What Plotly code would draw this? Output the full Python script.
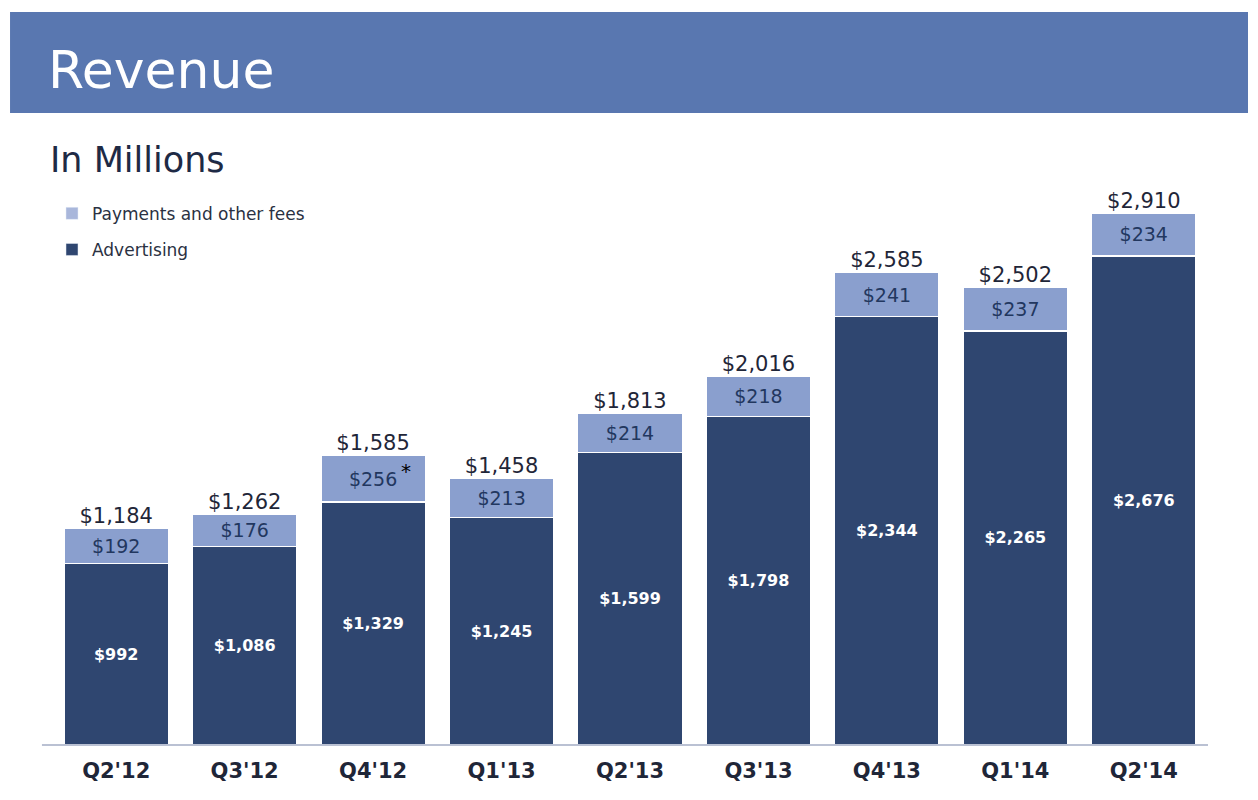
import plotly.graph_objects as go

# Quarterly revenue, in millions of dollars
quarters = ["Q2'12", "Q3'12", "Q4'12", "Q1'13", "Q2'13", "Q3'13", "Q4'13", "Q1'14", "Q2'14"]
advertising = [992, 1086, 1329, 1245, 1599, 1798, 2344, 2265, 2676]
payments = [192, 176, 256, 213, 214, 218, 241, 237, 234]
totals = [1184, 1262, 1585, 1458, 1813, 2016, 2585, 2502, 2910]

FONT = "DejaVu Sans"
AD_COLOR = "#2f4670"
PAY_COLOR = "#8a9fce"
TEXT_DARK = "#1f2638"

fig = go.Figure()

fig.add_trace(go.Bar(
    x=quarters, y=advertising, name="Advertising",
    marker=dict(color=AD_COLOR, line=dict(color="white", width=1.5)),
    text=[f"${v:,}" for v in advertising],
    textposition="inside", insidetextanchor="middle", textangle=0,
    insidetextfont=dict(family=FONT, size=16, color="white", weight="bold"),
    showlegend=False, hoverinfo="skip",
))
fig.add_trace(go.Bar(
    x=quarters, y=payments, name="Payments and other fees",
    marker=dict(color=PAY_COLOR, line=dict(color="white", width=1.5)),
    text=[f"${v:,}" for v in payments],
    textposition="inside", insidetextanchor="middle", textangle=0,
    insidetextfont=dict(family=FONT, size=19, color="#22375f"),
    showlegend=False, hoverinfo="skip",
))

# totals above each stack
fig.add_trace(go.Scatter(
    x=quarters, y=totals, mode="text",
    text=[f"${v:,}" for v in totals], textposition="top center",
    textfont=dict(family=FONT, size=21, color=TEXT_DARK),
    showlegend=False, hoverinfo="skip",
))

# legend-only entries (swatches are lighter than the bars in the original)
fig.add_trace(go.Bar(x=[None], y=[None], name="Payments and other fees",
                     marker_color="#a9b7db", legendgroup="p", legendrank=1))
fig.add_trace(go.Bar(x=[None], y=[None], name="Advertising",
                     marker_color="#2f4670", legendgroup="a", legendrank=2))

# footnote star on Q4'12 payments
fig.add_annotation(x=quarters[2], y=advertising[2] + payments[2] / 2,
                   text="*", showarrow=False, xshift=33, yshift=8,
                   font=dict(family=FONT, size=20, color="black"))

# header band and titles
fig.add_shape(type="rect", xref="paper", yref="paper",
              x0=-0.0363, x1=1.0346, y0=1.062, y1=1.232,
              fillcolor="#5977b0", line_width=0, layer="below")
fig.add_annotation(xref="paper", yref="paper", x=-0.005, y=1.135,
                   xanchor="left", yanchor="middle", text="Revenue",
                   showarrow=False, font=dict(family=FONT, size=52, color="white"))
fig.add_annotation(xref="paper", yref="paper", x=-0.0035, y=0.983,
                   xanchor="left", yanchor="middle", text="In Millions",
                   showarrow=False, font=dict(family=FONT, size=35, color="#1e2a45"))

# baseline
fig.add_shape(type="line", xref="paper", yref="paper",
              x0=-0.0087, x1=1.0, y0=0, y1=0,
              line=dict(color="#a3adc4", width=1.5))

# page body adds an 8px margin, so the figure is drawn 8px smaller
fig.update_layout(
    barmode="stack", bargap=0.185,
    width=1250, height=792,
    margin=dict(l=44, r=50, t=142, b=55),
    plot_bgcolor="white", paper_bgcolor="white",
    font=dict(family=FONT, color=TEXT_DARK),
    legend=dict(x=0.0, y=0.923, xanchor="left", yanchor="top",
                traceorder="grouped", tracegroupgap=11,
                font=dict(family=FONT, size=17, color="#2a3142"),
                bgcolor="rgba(0,0,0,0)"),
    xaxis=dict(showgrid=False, showline=False, zeroline=False,
               tickfont=dict(family=FONT, size=21, color=TEXT_DARK, weight="bold"),
               ticklabelstandoff=11),
    yaxis=dict(visible=False, range=[0, 3255]),
)

fig.write_html("out.html")
